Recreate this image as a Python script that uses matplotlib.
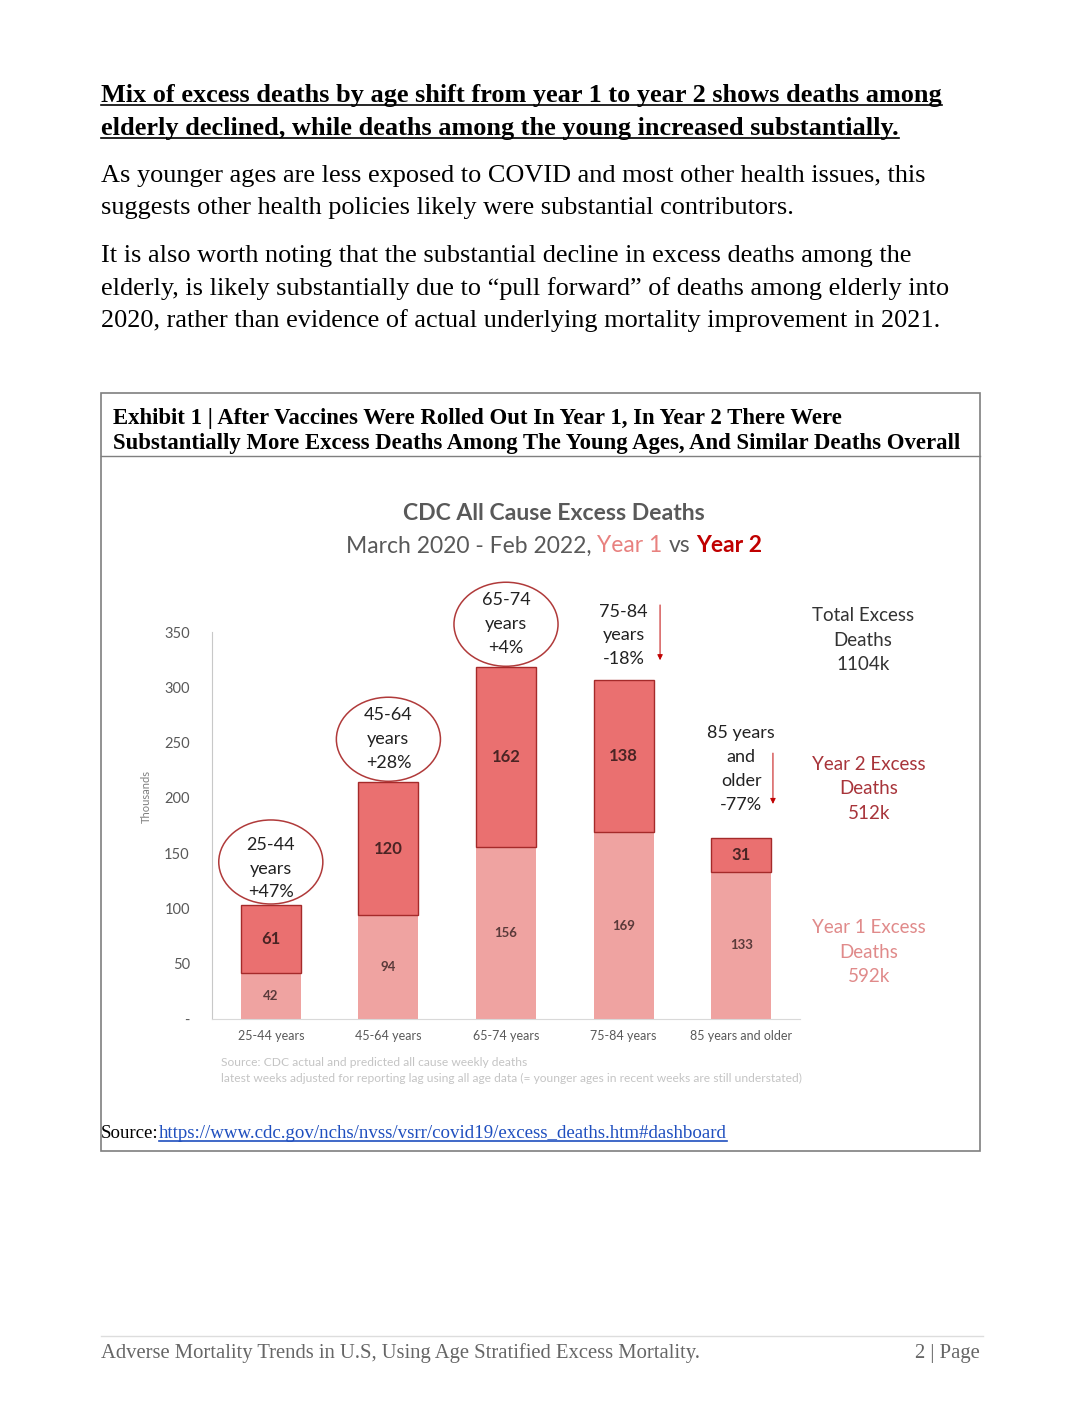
import matplotlib.pyplot as plt
import numpy as np
from matplotlib.patches import Ellipse, Rectangle
from matplotlib.lines import Line2D

# data
age_groups = ["25-44 years", "45-64 years", "65-74 years", "75-84 years", "85 years and older"]
year1 = [42, 94, 156, 169, 133]
year2 = [61, 120, 162, 138, 31]
group_notes = ["25-44\nyears\n+47%", "45-64\nyears\n+28%", "65-74\nyears\n+4%",
               "75-84\nyears\n-18%", "85 years\nand\nolder\n-77%"]
y_ticks = [0, 50, 100, 150, 200, 250, 300, 350]
y_tick_labels = ["-", "50", "100", "150", "200", "250", "300", "350"]
total_excess = 1104
year2_total = 512
year1_total = 592

W, H = 1077, 1409
SERIF = "Liberation Serif"
SANS = "Lato"
C_Y1 = "#EFA3A1"
C_Y2 = "#EA7070"
C_EDGE = "#A52A2A"
C_DARKRED = "#C00000"


def fx(x):
    return x / W


def fy(y):
    return 1 - y / H


def main():
    fig = plt.figure(figsize=(W / 100, H / 100), dpi=100)
    fig.patch.set_facecolor("white")

    # page text
    head1 = fig.text(fx(101), fy(102), "Mix of excess deaths by age shift from year 1 to year 2 shows deaths among",
                     family=SERIF, weight="bold", fontsize=18.95, va="baseline")
    head2 = fig.text(fx(101), fy(135), "elderly declined, while deaths among the young increased substantially.",
                     family=SERIF, weight="bold", fontsize=18.95, va="baseline")
    para = [
        (182, "As younger ages are less exposed to COVID and most other health issues, this"),
        (214, "suggests other health policies likely were substantial contributors."),
        (262, "It is also worth noting that the substantial decline in excess deaths among the"),
        (295, "elderly, is likely substantially due to \u201cpull forward\u201d of deaths among elderly into"),
        (327, "2020, rather than evidence of actual underlying mortality improvement in 2021."),
    ]
    for y, s in para:
        fig.text(fx(101), fy(y), s, family=SERIF, fontsize=18.9, va="baseline")

    # exhibit box
    fig.add_artist(Rectangle((fx(101), fy(1151)), fx(980) - fx(101), fy(393) - fy(1151),
                             transform=fig.transFigure, fill=False, ec="#7F7F7F", lw=1.2))
    fig.add_artist(Line2D([fx(101), fx(980)], [fy(456), fy(456)], transform=fig.transFigure,
                          color="#7F7F7F", lw=1.0))
    fig.text(fx(113), fy(424), "Exhibit 1 | After Vaccines Were Rolled Out In Year 1, In Year 2 There Were",
             family=SERIF, weight="bold", fontsize=16.35, va="baseline")
    fig.text(fx(113), fy(449), "Substantially More Excess Deaths Among The Young Ages, And Similar Deaths Overall",
             family=SERIF, weight="bold", fontsize=16.35, va="baseline")

    # chart
    ax = fig.add_axes([fx(212), fy(1019), fx(800) - fx(212), fy(632) - fy(1019)])
    x = np.arange(len(age_groups))
    ax.bar(x, year1, width=0.51, color=C_Y1, zorder=2)
    ax.bar(x, year2, bottom=year1, width=0.51, color=C_Y2, edgecolor=C_EDGE, lw=1.0, zorder=2)
    ax.set_xlim(-0.5, 4.5)
    ax.set_ylim(0, 350)
    ax.set_yticks(y_ticks)
    ax.set_yticklabels(y_tick_labels)
    ax.set_xticks(x)
    ax.set_xticklabels(age_groups)
    ax.tick_params(length=0, colors="#595959")
    ax.tick_params(axis="y", labelsize=10.5, pad=16)
    ax.tick_params(axis="x", labelsize=9, pad=8)
    for lab in ax.get_xticklabels() + ax.get_yticklabels():
        lab.set_family(SANS)
    for s in ["top", "right"]:
        ax.spines[s].set_visible(False)
    ax.spines["left"].set_color("#C8C8C8")
    ax.spines["bottom"].set_color("#D9D9D9")
    ax.set_ylabel("Thousands", family=SANS, fontsize=8, color="#7F7F7F")
    ax.yaxis.set_label_coords(-0.102, 0.574)

    for i in x:
        ax.text(i, year1[i] / 2, str(year1[i]), ha="center", va="center", family=SANS,
                weight="bold", fontsize=9.5, color="#5A3A3A", zorder=3)
        ax.text(i, year1[i] + year2[i] / 2, str(year2[i]), ha="center", va="center", family=SANS,
                weight="bold", fontsize=12, color="#4A2424", zorder=3)

    # circled notes for the groups that rose
    text_off = [33, 39, 39]
    for i in range(3):
        top = year1[i] + year2[i]
        ax.add_patch(Ellipse((i, top + 39), 0.885, 76, fc="white", ec="#B03A3A", lw=1.1,
                             zorder=4, clip_on=False))
        ax.text(i, top + text_off[i], group_notes[i], ha="center", va="center", family=SANS,
                fontsize=13, color="#222222", linespacing=1.6, zorder=5, clip_on=False)

    # notes with arrows for the groups that fell
    for i, dy, dx, a0, a1 in [(3, 40, 0.31, 70, 15), (4, 62, 0.27, 79, 28)]:
        top = year1[i] + year2[i]
        ax.text(i, top + dy, group_notes[i], ha="center", va="center", family=SANS,
                fontsize=13, color="#222222", linespacing=1.6, zorder=5, clip_on=False)
        ax.annotate("", xy=(i + dx, top + a1), xytext=(i + dx, top + a0),
                    arrowprops=dict(arrowstyle="-|>", color=C_DARKRED, lw=0.7, mutation_scale=8),
                    annotation_clip=False)

    # chart titles
    fig.text(fx(554), fy(514), "CDC All Cause Excess Deaths", ha="center", va="center",
             family=SANS, weight="bold", fontsize=16.6, color="#595959")
    fig.canvas.draw()
    r = fig.canvas.get_renderer()
    pieces = [("March 2020 - Feb 2022, ", "#595959", "normal"), ("Year 1", "#E8817F", "normal"),
              (" vs ", "#595959", "normal"), ("Year 2", C_DARKRED, "bold")]
    probe = fig.text(0, 0, "x x", family=SANS, fontsize=16.5)
    probe2 = fig.text(0, 0, "xx", family=SANS, fontsize=16.5)
    sp = probe.get_window_extent(r).width - probe2.get_window_extent(r).width
    probe.remove()
    probe2.remove()
    widths = []
    texts = []
    for s, c, w in pieces:
        t = fig.text(0, fy(546), s.strip(), family=SANS, fontsize=16.5, color=c, weight=w, va="center")
        widths.append(t.get_window_extent(r).width)
        texts.append(t)
    gaps = [sp, sp, sp]
    total = sum(widths) + sum(gaps)
    cur = 554 - total / 2
    for k, t in enumerate(texts):
        t.set_x(fx(cur))
        cur += widths[k] + (gaps[k] if k < len(gaps) else 0)

    # right side totals
    fig.text(fx(863), fy(640), "Total Excess\nDeaths\n%dk" % total_excess, ha="center", va="center",
             family=SANS, fontsize=13.5, color="#333333", linespacing=1.55)
    fig.text(fx(869), fy(789), "Year 2 Excess\nDeaths\n%dk" % year2_total, ha="center", va="center",
             family=SANS, fontsize=13.5, color="#A8343A", linespacing=1.55)
    fig.text(fx(869), fy(952), "Year 1 Excess\nDeaths\n%dk" % year1_total, ha="center", va="center",
             family=SANS, fontsize=13.5, color="#E08A8A", linespacing=1.55)

    # chart source notes
    fig.text(fx(221), fy(1062), "Source: CDC actual and predicted all cause weekly deaths",
             family=SANS, fontsize=8.65, color="#C4C4C4", va="center")
    fig.text(fx(221), fy(1078), "latest weeks adjusted for reporting lag using all age data (= younger ages in recent weeks are still understated)",
             family=SANS, fontsize=8.65, color="#C4C4C4", va="center")

    # source link
    src = fig.text(fx(101), fy(1138), "Source:", family=SERIF, fontsize=13.6, va="baseline")
    fig.canvas.draw()
    bb = src.get_window_extent(r)
    link = fig.text(bb.x1 / W, fy(1138), "https://www.cdc.gov/nchs/nvss/vsrr/covid19/excess_deaths.htm#dashboard",
                    family=SERIF, fontsize=13.6, color="#1F4FBF", va="baseline")

    # footer
    fig.add_artist(Line2D([fx(101), fx(983)], [fy(1336), fy(1336)], transform=fig.transFigure,
                          color="#DDDDDD", lw=1.0))
    fig.text(fx(101), fy(1358), "Adverse Mortality Trends in U.S, Using Age Stratified Excess Mortality.",
             family=SERIF, fontsize=14.85, color="#666666", va="baseline")
    fig.text(fx(980), fy(1358), "2 | Page", family=SERIF, fontsize=14.85, color="#666666",
             va="baseline", ha="right")

    # underlines
    fig.canvas.draw()
    for t, col in [(head1, "black"), (head2, "black"), (link, "#1F4FBF")]:
        b = t.get_window_extent(r)
        yb = t.get_position()[1] - 3.0 / H
        fig.add_artist(Line2D([b.x0 / W, b.x1 / W], [yb, yb], transform=fig.transFigure,
                              color=col, lw=1.2))

    fig.savefig("out.png", dpi=100)


if __name__ == "__main__":
    main()
